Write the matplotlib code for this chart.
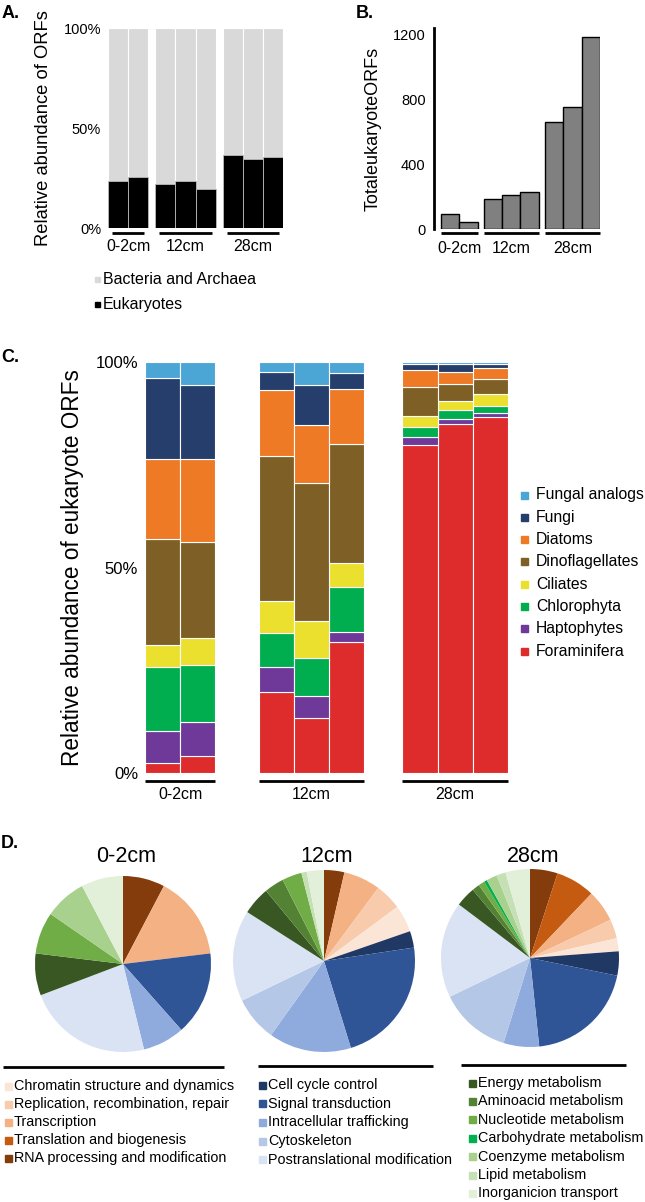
import numpy as np
import matplotlib
matplotlib.use('Agg')
import matplotlib.pyplot as plt
from matplotlib.patches import Rectangle

plt.rcParams['font.family'] = ['Liberation Sans', 'DejaVu Sans']

W, H = 645, 1202

# ---------------- data ----------------
depths = ['0-2cm', '12cm', '28cm']
samples_per_depth = [2, 3, 3]

# A. eukaryote share of all ORFs (%), one value per sample
euk_pct = [23.6, 25.3, 21.9, 23.6, 19.7, 36.3, 34.4, 35.6]

# B. total eukaryote ORFs per sample
euk_orfs = [95, 43, 187, 210, 230, 657, 752, 1179]

# C. relative abundance of eukaryote ORFs (%) per sample, bottom -> top
foraminifera = [2.5, 4.1, 19.8, 13.3, 31.9, 79.8, 84.9, 86.5]
haptophytes = [7.7, 8.2, 6.1, 5.4, 2.5, 1.9, 1.2, 1.0]
chlorophyta = [15.7, 14.0, 8.1, 9.4, 10.9, 2.6, 2.2, 1.9]
ciliates = [5.2, 6.5, 7.9, 8.9, 5.9, 2.6, 2.3, 2.8]
dinoflagellates = [25.8, 23.3, 35.2, 33.5, 28.8, 6.9, 4.0, 3.7]
diatoms = [19.4, 20.2, 16.1, 14.2, 13.4, 4.3, 2.9, 2.6]
fungi = [19.7, 18.1, 4.3, 9.7, 4.0, 1.3, 1.9, 0.9]
fungal_analogs = [4.0, 5.6, 2.5, 5.6, 2.6, 0.6, 0.6, 0.6]

taxa = ['Foraminifera', 'Haptophytes', 'Chlorophyta', 'Ciliates',
        'Dinoflagellates', 'Diatoms', 'Fungi', 'Fungal analogs']
taxa_colors = ['#DD2C2B', '#6F399A', '#00AE50', '#ECE02E',
               '#7E6027', '#EE7A26', '#263E6C', '#4BA6D6']

# D. functional categories (pie order, clockwise from 12 o'clock)
functions = ['RNA processing and modification', 'Translation and biogenesis',
             'Transcription', 'Replication, recombination, repair',
             'Chromatin structure and dynamics', 'Cell cycle control',
             'Signal transduction', 'Intracellular trafficking', 'Cytoskeleton',
             'Postranslational modification', 'Energy metabolism',
             'Aminoacid metabolism', 'Nucleotide metabolism',
             'Carbohydrate metabolism', 'Coenzyme metabolism',
             'Lipid metabolism', 'Inorganicion transport']
function_colors = ['#843C0C', '#C55A11', '#F4B183', '#F8CBAD', '#FBE5D6',
                   '#203864', '#2F5597', '#8FAADC', '#B4C7E7', '#DAE3F3',
                   '#385723', '#548235', '#70AD47', '#00B050', '#A9D18E',
                   '#C5E0B4', '#E2F0D9']
pie_0_2cm = [1, 0, 2, 0, 0, 0, 2, 1, 0, 3, 1, 0, 1, 0, 1, 0, 1]
pie_12cm = [13, 0, 23.6, 17, 17.3, 10.6, 81.3, 52.8, 28.6, 58.3,
            17.9, 12.6, 12.6, 0, 0, 3.4, 11]
pie_28cm = [18, 25.6, 21, 12.5, 8.5, 15.8, 72.5, 23.2, 46.9, 62.7,
            13, 5, 4, 2, 7, 6, 16]

# legend columns in panel D
legend_cols = [
    ['Chromatin structure and dynamics', 'Replication, recombination, repair',
     'Transcription', 'Translation and biogenesis',
     'RNA processing and modification'],
    ['Cell cycle control', 'Signal transduction', 'Intracellular trafficking',
     'Cytoskeleton', 'Postranslational modification'],
    ['Energy metabolism', 'Aminoacid metabolism', 'Nucleotide metabolism',
     'Carbohydrate metabolism', 'Coenzyme metabolism', 'Lipid metabolism',
     'Inorganicion transport'],
]


def rect(l, t, r, b):
    # pixel box -> figure fraction
    return [l / W, 1 - b / H, (r - l) / W, (b - t) / H]


def group_positions(sizes, gaps):
    pos, x = [], 0.0
    for i, n in enumerate(sizes):
        for _ in range(n):
            pos.append(x)
            x += 1
        if i < len(gaps):
            x += gaps[i]
    return np.array(pos)


def group_lines(ax, pos, y_line, y_text, inset, fs):
    start = 0
    for name, n in zip(depths, samples_per_depth):
        p = pos[start:start + n]
        x0, x1 = p[0] - 0.5 + inset, p[-1] + 0.5 - inset
        ax.plot([x0, x1], [y_line, y_line], color='black', lw=2,
                transform=ax.get_xaxis_transform(), clip_on=False,
                solid_capstyle='butt')
        ax.text((x0 + x1) / 2, y_text, name, ha='center', va='center',
                fontsize=fs, transform=ax.get_xaxis_transform())
        start += n


fig = plt.figure(figsize=(W / 100, H / 100), dpi=100)

# overlay for free text / legends in pixel coordinates
ov = fig.add_axes([0, 0, 1, 1])
ov.set_xlim(0, W)
ov.set_ylim(H, 0)
ov.axis('off')

for lab, x, y in [('A.', 2, 14), ('B.', 356, 14), ('C.', 1, 357), ('D.', 1, 843)]:
    ov.text(x, y, lab, fontsize=13, fontweight='bold', ha='left', va='center')

# ---------------- A ----------------
axA = fig.add_axes(rect(108, 28, 283, 228))
posA = group_positions(samples_per_depth, [0.35, 0.35])
axA.bar(posA, [100] * len(posA), width=1, color='#D9D9D9', edgecolor='white', lw=0.8)
axA.bar(posA, euk_pct, width=1, color='black', edgecolor='#BBBBBB', lw=0.6)
axA.set_xlim(posA[0] - 0.5, posA[-1] + 0.5)
axA.set_ylim(0, 100)
axA.set_yticks([0, 50, 100])
axA.set_yticklabels(['0%', '50%', '100%'], fontsize=10.5)
axA.set_xticks([])
axA.tick_params(axis='y', length=0, pad=5)
for s in axA.spines.values():
    s.set_visible(False)
axA.set_ylabel('Relative abundance of ORFs', fontsize=13.2, labelpad=8)
group_lines(axA, posA, -0.025, -0.09, 0.2, 11.5)

for i, (lab, col) in enumerate([('Bacteria and Archaea', '#D9D9D9'), ('Eukaryotes', 'black')]):
    y = 279 + i * 25
    ov.add_patch(Rectangle((95, y - 2.5), 5, 5, color=col))
    ov.text(103, y, lab, fontsize=11.5, va='center', ha='left')

# ---------------- B ----------------
axB = fig.add_axes(rect(434, 28, 600, 229))
posB = group_positions(samples_per_depth, [0.33, 0.33])
axB.bar(posB, euk_orfs, width=1, color='#808080', edgecolor='black', lw=1)
axB.set_xlim(posB[0] - 0.88, posB[-1] + 0.5)
axB.set_ylim(0, 1237)
axB.set_yticks([0, 400, 800, 1200])
axB.tick_params(axis='y', length=0, pad=6, labelsize=10.5)
axB.set_xticks([])
for k in ['top', 'right', 'bottom']:
    axB.spines[k].set_visible(False)
axB.spines['left'].set_linewidth(2)
axB.set_ylabel('TotaleukaryoteORFs', fontsize=13, labelpad=8)
group_lines(axB, posB, -0.02, -0.095, 0.0, 11.5)

# ---------------- C ----------------
axC = fig.add_axes(rect(145, 362, 508, 773))
posC = group_positions(samples_per_depth, [1.23, 1.08])
stack = [foraminifera, haptophytes, chlorophyta, ciliates,
         dinoflagellates, diatoms, fungi, fungal_analogs]
bottom = np.zeros(len(posC))
for vals, col, name in zip(stack, taxa_colors, taxa):
    axC.bar(posC, vals, bottom=bottom, width=1, color=col,
            edgecolor='white', lw=0.8, label=name)
    bottom += np.array(vals)
axC.set_xlim(posC[0] - 0.5, posC[-1] + 0.5)
axC.set_ylim(0, 100)
axC.set_yticks([0, 50, 100])
axC.set_yticklabels(['0%', '50%', '100%'], fontsize=12)
axC.set_xticks([])
axC.tick_params(axis='y', length=0, pad=5)
for s in axC.spines.values():
    s.set_visible(False)
axC.set_ylabel('Relative abundance of eukaryote ORFs', fontsize=16.3, labelpad=8)
group_lines(axC, posC, -0.02, -0.053, 0.0, 11.5)

for i in range(len(taxa)):
    j = len(taxa) - 1 - i
    y = 495 + i * 22.3
    ov.add_patch(Rectangle((521, y - 3.5), 7, 7, color=taxa_colors[j]))
    ov.text(536, y, taxa[j], fontsize=11.3, va='center', ha='left')

# ---------------- D ----------------
pies = [(pie_0_2cm, 123, 964, 88), (pie_12cm, 324, 961, 91), (pie_28cm, 530, 958, 89)]
for (vals, cx, cy, r), name in zip(pies, depths):
    ax = fig.add_axes(rect(cx - r, cy - r, cx + r, cy + r))
    ax.pie(vals, colors=function_colors, startangle=90, counterclock=False,
           wedgeprops=dict(linewidth=0))
    ax.set_xlim(-1, 1)
    ax.set_ylim(-1, 1)
    ax.set_aspect('equal')
    ov.text(cx + 3, 857, name, fontsize=15.5, ha='center', va='center')

col_lines = [(3, 224, 1067), (258, 433, 1066), (461, 626, 1065)]
col_rows = [(5, 1086, 18), (259, 1085, 18.7), (469, 1083, 18.4)]
for (x0, x1, yl), (mx, y0, dy), items in zip(col_lines, col_rows, legend_cols):
    ov.plot([x0, x1], [yl, yl], color='black', lw=2, solid_capstyle='butt')
    for k, lab in enumerate(items):
        y = y0 + k * dy
        ov.add_patch(Rectangle((mx, y - 3.5), 7, 7,
                               color=function_colors[functions.index(lab)]))
        ov.text(mx + 9, y, lab, fontsize=10.4, va='center', ha='left')

fig.savefig('out.png', dpi=100)
